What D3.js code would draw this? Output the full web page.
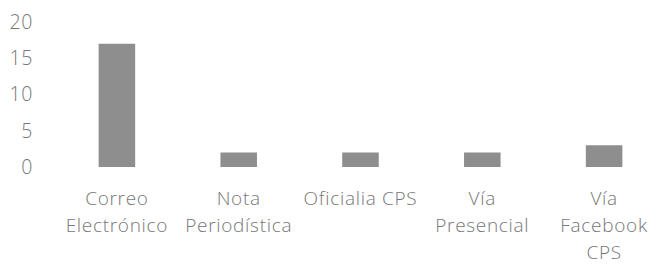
<!DOCTYPE html>
<html>
<head>
<meta charset="utf-8">
<script src="https://cdn.jsdelivr.net/npm/d3@7"></script>
<style>
  body { margin: 0; background: #fff; }
  svg text { font-family: "Open Sans", Lato, sans-serif; font-weight: 300; fill: #777; }
</style>
</head>
<body>
<div id="chart"></div>
<script>
const categories = [
  ["Correo", "Electrónico"],
  ["Nota", "Periodística"],
  ["Oficialia CPS"],
  ["Vía", "Presencial"],
  ["Vía", "Facebook", "CPS"]
];
const values = [17, 2, 2, 2, 3];
const yTicks = [0, 5, 10, 15, 20];

const width = 652, height = 266;
const svg = d3.select("#chart").append("svg")
    .attr("width", width)
    .attr("height", height);

const x = d3.scaleBand()
    .domain(d3.range(categories.length))
    .range([56, 665])
    .paddingInner(0.7)
    .paddingOuter(0.35);

const y = d3.scaleLinear()
    .domain([0, 20])
    .range([167, 22]);

// y axis labels (no visible gridlines in the scan)
const yAxis = d3.axisLeft(y).tickValues(yTicks).tickSize(0).tickPadding(0);
svg.append("g")
    .attr("transform", "translate(33,0)")
    .call(yAxis)
    .call(g => g.select(".domain").remove())
    .selectAll("text")
    .style("font-size", "19.5px")
    .style("letter-spacing", "0.6px")
    .attr("fill", "#777");

// bars
svg.append("g")
    .selectAll("rect")
    .data(values)
    .join("rect")
    .attr("x", (d, i) => x(i))
    .attr("y", d => y(d))
    .attr("width", x.bandwidth())
    .attr("height", d => y(0) - y(d))
    .attr("fill", "#8e8e8e");

// category labels
const lab = svg.append("g")
    .selectAll("text")
    .data(categories)
    .join("text")
    .attr("text-anchor", "middle")
    .attr("x", (d, i) => x(i) + x.bandwidth() / 2)
    .attr("y", 205)
    .style("font-size", "19px")
    .style("letter-spacing", "0.7px");
lab.selectAll("tspan")
    .data(d => d)
    .join("tspan")
    .attr("x", function () { return this.parentNode.getAttribute("x"); })
    .attr("dy", (d, i) => i === 0 ? 0 : 27)
    .text(d => d);
</script>
</body>
</html>
